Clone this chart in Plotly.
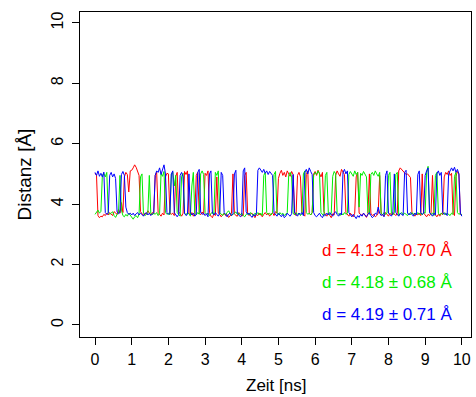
import plotly.graph_objects as go

# time axis (ns), 0.04 ns steps
time_ns = [round(i * 0.04, 2) for i in range(251)]

red_d = [
    5.02, 4.95, 3.62, 3.55, 3.60, 3.58, 3.66, 3.62, 3.70, 3.64, 3.72, 3.68, 3.62, 3.75, 3.70, 3.66, 3.82, 3.70, 4.05, 3.72, 4.90, 5.05, 4.98, 4.40, 5.10,
    5.12, 5.20, 5.30, 5.22, 5.05, 4.95, 3.75, 3.68, 3.62, 3.70, 3.66, 3.78, 3.70, 3.64, 3.72, 3.68, 4.95, 5.05, 3.72, 3.66, 3.60, 3.70, 3.64, 4.90, 5.02,
    5.00, 3.72, 3.66, 3.70, 3.62, 4.92, 5.05, 3.75, 3.68, 3.60, 3.70, 5.08, 4.98, 5.10, 3.70, 3.64, 3.72, 3.60, 3.68, 4.95, 5.05, 3.70, 3.65, 3.74, 3.66,
    5.02, 4.95, 5.10, 3.72, 3.60, 3.55, 3.68, 3.62, 4.90, 3.70, 3.66, 3.58, 3.64, 3.70, 3.62, 3.66, 3.56, 3.60, 3.70, 5.00, 3.68, 3.62, 3.60, 3.72, 3.66,
    3.60, 3.64, 4.95, 5.05, 3.70, 3.62, 3.68, 3.70, 3.60, 3.55, 3.66, 3.62, 3.70, 3.64, 3.58, 3.66, 3.72, 3.64, 3.70, 3.60, 3.66, 3.72, 3.62, 3.75, 3.70,
    4.85, 5.02, 5.12, 4.95, 5.05, 4.90, 5.10, 5.00, 4.92, 5.08, 4.98, 3.70, 3.62, 4.95, 5.05, 4.90, 3.72, 3.66, 3.60, 4.98, 5.10, 3.70, 3.64, 3.72, 5.00,
    5.08, 4.95, 5.12, 5.02, 4.90, 5.05, 3.75, 3.66, 3.60, 3.70, 3.62, 3.55, 3.68, 3.64, 4.95, 5.10, 5.00, 4.92, 5.15, 5.05, 4.98, 3.72, 3.65, 3.60, 3.70,
    3.64, 3.58, 3.70, 4.90, 5.05, 3.70, 3.66, 3.62, 3.70, 3.64, 3.56, 3.68, 5.00, 3.70, 3.62, 3.66, 3.58, 3.62, 3.70, 4.95, 3.68, 3.64, 3.60, 3.72, 3.66,
    3.60, 3.70, 3.64, 3.72, 3.66, 3.62, 3.70, 5.10, 5.20, 5.15, 5.08, 5.05, 4.98, 5.00, 4.92, 4.88, 3.72, 3.66, 3.60, 3.68, 3.64, 3.70, 3.62, 5.00, 3.70,
    3.64, 3.58, 3.66, 3.62, 3.70, 4.95, 3.70, 3.62, 3.58, 3.66, 3.60, 3.70, 3.64, 4.90, 5.05, 4.98, 5.10, 4.95, 5.02, 3.70, 3.62, 4.92, 5.08, 5.00, 3.66,
    3.62,
]

green_d = [
    3.66, 3.72, 3.80, 3.70, 3.76, 4.95, 5.02, 4.90, 5.05, 3.72, 3.66, 3.70, 3.75, 3.62, 3.56, 3.66, 3.70, 4.95, 3.80, 3.62, 3.58, 3.66, 3.60, 3.70, 3.64,
    3.55, 3.50, 3.58, 3.62, 3.55, 3.66, 4.90, 5.00, 3.70, 3.62, 3.66, 3.72, 4.95, 3.70, 3.64, 3.70, 3.66, 3.72, 3.62, 3.70, 5.02, 4.92, 5.08, 3.72, 3.66,
    3.70, 3.64, 4.98, 5.05, 4.60, 4.95, 3.72, 3.66, 3.60, 4.92, 5.02, 3.70, 3.64, 3.72, 3.68, 3.60, 4.60, 5.05, 3.70, 3.64, 3.72, 3.66, 5.00, 5.10, 4.98,
    3.72, 3.66, 3.70, 3.62, 3.68, 3.74, 3.66, 5.05, 4.95, 5.10, 3.72, 3.66, 3.62, 3.70, 3.64, 3.72, 3.78, 3.70, 3.62, 3.66, 3.70, 3.74, 3.66, 3.70, 3.64,
    3.70, 3.62, 3.58, 3.66, 3.70, 3.64, 3.72, 3.66, 3.62, 3.70, 3.66, 3.72, 3.64, 3.70, 3.62, 4.95, 5.05, 3.72, 3.66, 3.70, 3.64, 3.72, 4.98, 5.08, 3.70,
    3.64, 3.72, 3.66, 3.70, 3.62, 3.68, 3.72, 4.95, 5.05, 4.90, 3.70, 3.64, 3.72, 3.66, 3.70, 3.62, 3.68, 5.00, 5.10, 3.72, 3.66, 3.70, 3.64, 3.72, 4.95,
    5.05, 4.98, 5.10, 5.00, 3.72, 3.66, 3.60, 4.95, 5.05, 3.70, 3.64, 3.70, 4.92, 5.08, 5.00, 3.72, 3.66, 3.62, 3.70, 3.64, 3.72, 3.66, 3.70, 4.98, 5.08,
    5.00, 4.92, 5.10, 4.98, 5.05, 3.90, 5.02, 4.95, 5.08, 5.00, 4.90, 3.72, 3.66, 4.98, 5.05, 4.95, 5.10, 5.00, 4.92, 5.05, 3.70, 3.64, 3.72, 3.66, 3.70,
    4.95, 5.05, 3.70, 3.64, 3.72, 4.98, 5.05, 3.62, 3.68, 3.72, 3.64, 3.70, 3.66, 3.62, 3.70, 3.64, 3.72, 3.66, 3.70, 3.64, 3.72, 3.66, 3.70, 3.64, 3.72,
    3.70, 5.05, 5.25, 3.72, 3.66, 3.70, 3.62, 4.95, 5.05, 3.70, 3.64, 3.70, 3.66, 3.72, 3.64, 3.70, 3.66, 3.62, 3.70, 3.66, 4.92, 5.05, 3.72, 3.66, 3.70,
    3.64,
]

blue_d = [
    5.05, 4.95, 5.10, 4.92, 5.02, 4.90, 5.06, 3.72, 3.66, 3.70, 4.95, 5.05, 4.90, 5.00, 4.85, 3.75, 3.68, 3.72, 4.98, 5.08, 4.95, 3.90, 3.72, 3.66, 3.70,
    3.64, 3.70, 3.62, 3.68, 3.72, 3.64, 3.70, 3.66, 3.60, 3.68, 3.72, 3.64, 3.70, 3.62, 3.66, 3.72, 4.95, 5.10, 5.05, 5.20, 4.98, 5.12, 5.30, 5.00, 3.72,
    3.66, 3.70, 5.00, 5.10, 3.72, 3.64, 3.58, 3.66, 4.95, 5.05, 4.90, 3.70, 3.62, 3.66, 5.00, 3.72, 3.64, 3.70, 3.60, 3.66, 5.05, 5.15, 3.72, 3.66, 3.70,
    3.62, 3.68, 3.58, 5.00, 5.10, 3.70, 3.64, 3.72, 3.66, 3.60, 3.70, 5.05, 4.95, 3.72, 3.66, 3.58, 3.66, 3.70, 3.62, 3.68, 5.00, 5.12, 3.70, 3.64, 3.58,
    3.62, 5.10, 5.20, 3.75, 3.66, 3.70, 3.62, 3.56, 3.66, 3.60, 3.70, 5.12, 5.20, 5.10, 5.05, 5.15, 5.02, 5.10, 4.98, 5.08, 5.00, 4.95, 3.72, 3.66, 3.60,
    3.70, 3.62, 3.58, 3.66, 3.55, 3.60, 3.70, 3.64, 3.60, 3.68, 4.98, 3.72, 3.64, 3.60, 3.70, 3.66, 3.72, 3.62, 5.05, 5.15, 5.00, 5.20, 5.08, 4.98, 3.72,
    3.62, 3.58, 3.66, 3.70, 3.60, 3.55, 3.66, 3.62, 3.70, 3.64, 3.72, 3.66, 3.60, 3.70, 3.75, 3.66, 3.60, 3.70, 3.64, 5.05, 5.15, 5.00, 5.10, 3.72, 3.64,
    3.58, 3.66, 3.60, 3.52, 3.62, 3.56, 3.66, 3.60, 3.70, 3.64, 3.58, 3.66, 3.72, 3.62, 3.55, 3.60, 3.70, 3.66, 3.90, 3.70, 3.62, 3.66, 3.58, 4.95, 5.10,
    3.70, 3.64, 3.60, 3.70, 5.00, 3.72, 3.64, 3.60, 3.70, 3.66, 3.62, 5.05, 5.12, 3.70, 3.64, 3.72, 3.66, 3.60, 3.70, 3.64, 4.98, 5.10, 3.72, 3.66, 3.70,
    4.95, 5.10, 5.20, 3.72, 3.66, 3.60, 3.70, 3.64, 5.00, 5.10, 4.95, 5.05, 3.72, 3.66, 3.70, 3.62, 5.00, 5.12, 5.20, 5.10, 5.22, 5.05, 5.15, 5.00, 3.70,
    3.60,
]

series_names = ["rot", "grün", "blau"]
series_colors = ["#FF0000", "#00EE00", "#0000FF"]
stat_labels = ["d = 4.13 ± 0.70 Å", "d = 4.18 ± 0.68 Å", "d = 4.19 ± 0.71 Å"]
stat_y = [2.45, 1.40, 0.36]

x_ticks = list(range(0, 11))
y_ticks = [0, 2, 4, 6, 8, 10]

FONT = "Liberation Sans, Arial, Helvetica, sans-serif"

fig = go.Figure()
for name, col, vals in zip(series_names, series_colors, [red_d, green_d, blue_d]):
    fig.add_trace(go.Scatter(x=time_ns, y=vals, mode="lines", name=name,
                             line=dict(color=col, width=1), showlegend=False))

for txt, col, yy in zip(stat_labels, series_colors, stat_y):
    fig.add_annotation(x=9.82, y=yy, xref="x", yref="y", text=txt, showarrow=False,
                       xanchor="right", yanchor="middle",
                       font=dict(family=FONT, size=17, color=col))

fig.add_annotation(x=0.5, y=-0.150, xref="paper", yref="paper", text="Zeit [ns]",
                   showarrow=False, xanchor="center", yanchor="middle",
                   font=dict(family=FONT, size=17, color="black"))
fig.add_annotation(x=-0.1407, y=0.5, xref="paper", yref="paper", text="Distanz [Å]",
                   showarrow=False, xanchor="center", yanchor="middle", textangle=-90,
                   font=dict(family=FONT, size=19, color="black"))

fig.update_layout(
    width=476, height=397,
    margin=dict(l=80, r=5, t=12, b=60),
    paper_bgcolor="white", plot_bgcolor="white",
    font=dict(family=FONT, size=16, color="black"),
)
fig.update_xaxes(range=[-0.41, 10.25], tickvals=x_ticks, ticktext=[str(v) for v in x_ticks],
                 showgrid=False, zeroline=False, showline=True, mirror=True,
                 linecolor="black", linewidth=1, ticks="outside", ticklen=7,
                 tickcolor="black", ticklabelstandoff=1)
fig.update_yaxes(range=[-0.4, 10.36], tickvals=y_ticks, ticktext=[str(v) for v in y_ticks],
                 showgrid=False, zeroline=False, showline=True, mirror=True,
                 linecolor="black", linewidth=1, ticks="outside", ticklen=7,
                 tickcolor="black", tickangle=-90, ticklabelstandoff=3)

fig.write_html("out.html", config={"displayModeBar": False},
               post_script="document.body.style.margin='0';document.body.style.overflow='hidden';")
